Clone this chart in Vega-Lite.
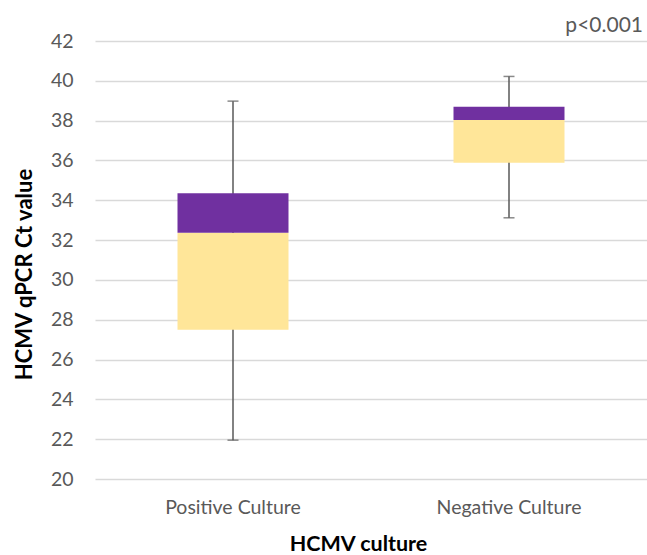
{
  "$schema": "https://vega.github.io/schema/vega-lite/v6.json",
  "width": 552,
  "height": 438,
  "autosize": {"type": "none"},
  "padding": {"left": 95, "top": 41, "right": 0, "bottom": 76},
  "background": "white",
  "title": {"text": "p<0.001", "anchor": "end", "fontSize": 21, "fontWeight": "normal", "color": "#595959", "font": "Lato", "offset": -5, "dx": -4},
  "config": {
    "view": {"stroke": null},
    "font": "Lato",
    "axis": {"labelFont": "Lato", "titleFont": "Lato"}
  },
  "data": {"values": [
    {"culture": "Positive Culture", "min": 21.95, "q1": 27.5, "median": 32.37, "q3": 34.35, "max": 38.98},
    {"culture": "Negative Culture", "min": 33.12, "q1": 35.88, "median": 38.03, "q3": 38.7, "max": 40.22}
  ]},
  "encoding": {
    "x": {"field": "culture", "type": "nominal", "sort": ["Positive Culture", "Negative Culture"],
      "scale": {"paddingInner": 0, "paddingOuter": 0},
      "axis": {"title": "HCMV culture", "labelAngle": 0, "domain": false, "ticks": false, "labelFontSize": 19.5, "labelColor": "#595959", "labelPadding": 19, "titleFontSize": 21.5, "titleFontWeight": "bold", "titleColor": "#000000", "titlePadding": 17, "titleX": 263, "grid": false}}
  },
  "layer": [
    {
      "mark": {"type": "rule", "color": "#595959", "strokeWidth": 1.5},
      "encoding": {
        "y": {"field": "min", "type": "quantitative", "scale": {"domain": [20, 42], "nice": false},
          "axis": {"title": "HCMV qPCR Ct value", "values": [20,22,24,26,28,30,32,34,36,38,40,42], "labelOverlap": false, "domain": false, "ticks": false, "labelFontSize": 19.5, "labelColor": "#595959", "labelPadding": 22, "gridColor": "#D9D9D9", "gridWidth": 1.5, "titleFontSize": 22, "titleFontWeight": "bold", "titleColor": "#000000", "titlePadding": 14, "titleY": 233}},
        "y2": {"field": "max"}
      }
    },
    {
      "mark": {"type": "tick", "color": "#595959", "thickness": 1.5, "size": 11, "orient": "horizontal"},
      "encoding": {"y": {"field": "min", "type": "quantitative",
          "axis": {"title": "HCMV qPCR Ct value", "values": [20,22,24,26,28,30,32,34,36,38,40,42], "labelOverlap": false, "domain": false, "ticks": false, "labelFontSize": 19.5, "labelColor": "#595959", "labelPadding": 22, "gridColor": "#D9D9D9", "gridWidth": 1.5, "titleFontSize": 22, "titleFontWeight": "bold", "titleColor": "#000000", "titlePadding": 14, "titleY": 233}}}
    },
    {
      "mark": {"type": "tick", "color": "#595959", "thickness": 1.5, "size": 11, "orient": "horizontal"},
      "encoding": {"y": {"field": "max", "type": "quantitative",
          "axis": {"title": "HCMV qPCR Ct value", "values": [20,22,24,26,28,30,32,34,36,38,40,42], "labelOverlap": false, "domain": false, "ticks": false, "labelFontSize": 19.5, "labelColor": "#595959", "labelPadding": 22, "gridColor": "#D9D9D9", "gridWidth": 1.5, "titleFontSize": 22, "titleFontWeight": "bold", "titleColor": "#000000", "titlePadding": 14, "titleY": 233}}}
    },
    {
      "mark": {"type": "bar", "color": "#FFE699", "size": 111},
      "encoding": {"y": {"field": "q1", "type": "quantitative",
          "axis": {"title": "HCMV qPCR Ct value", "values": [20,22,24,26,28,30,32,34,36,38,40,42], "labelOverlap": false, "domain": false, "ticks": false, "labelFontSize": 19.5, "labelColor": "#595959", "labelPadding": 22, "gridColor": "#D9D9D9", "gridWidth": 1.5, "titleFontSize": 22, "titleFontWeight": "bold", "titleColor": "#000000", "titlePadding": 14, "titleY": 233}}, "y2": {"field": "median"}}
    },
    {
      "mark": {"type": "bar", "color": "#7030A0", "size": 111},
      "encoding": {"y": {"field": "median", "type": "quantitative",
          "axis": {"title": "HCMV qPCR Ct value", "values": [20,22,24,26,28,30,32,34,36,38,40,42], "labelOverlap": false, "domain": false, "ticks": false, "labelFontSize": 19.5, "labelColor": "#595959", "labelPadding": 22, "gridColor": "#D9D9D9", "gridWidth": 1.5, "titleFontSize": 22, "titleFontWeight": "bold", "titleColor": "#000000", "titlePadding": 14, "titleY": 233}}, "y2": {"field": "q3"}}
    }
  ]
}
